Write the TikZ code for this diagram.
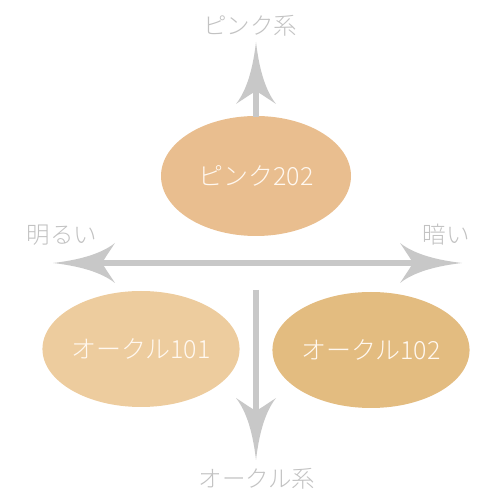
\documentclass[tikz,border=0pt]{standalone}
\usepackage{fontspec}
\setmainfont{Noto Sans CJK JP}[UprightFont={* Light}]
\usetikzlibrary{shapes.geometric}
\definecolor{arrowgray}{HTML}{C8C8C8}
\definecolor{labelgray}{HTML}{C2C2C2}
\definecolor{pinkfill}{HTML}{E9BE8F}
\definecolor{ochreA}{HTML}{EDCC9E}
\definecolor{ochreB}{HTML}{E3BC80}
\definecolor{textlight}{HTML}{FFF8F0}
\tikzset{
  blob/.style={ellipse, inner sep=0pt, text=textlight, font=\fontsize{25pt}{28pt}\selectfont},
  axislabel/.style={text=labelgray, font=\fontsize{23.5pt}{26pt}\selectfont, inner sep=0pt},
  axisline/.style={draw=arrowgray, line width=6pt},
  arrowhd/.pic={\fill[arrowgray] (0,0) .. controls (-26,-3) and (-48,-9) .. (-62,-20)
     .. controls (-56,-11) and (-52,-5) .. (-49,0)
     .. controls (-52,5) and (-56,11) .. (-62,20)
     .. controls (-48,9) and (-26,3) .. (0,0) -- cycle;}
}
\begin{document}
\begin{tikzpicture}[x=1pt,y=1pt]
\useasboundingbox (0,0) rectangle (500,500);
% ellipses
\node[blob, fill=pinkfill, minimum width=190pt, minimum height=120pt] (pink) at (256,324) {ピンク202};
\node[blob, fill=ochreA, minimum width=193pt, minimum height=116pt] (o101) at (141,151) {オークル101};
\node[blob, fill=ochreB, minimum width=191pt, minimum height=116pt] (o102) at (371,150) {オークル102};
% coordinates
\coordinate (uptip) at (256,458);
\coordinate (upstart) at (256,383);
\coordinate (lefttip) at (53,237);
\coordinate (righttip) at (462,237);
\coordinate (dstart) at (256,210);
\coordinate (dtip) at (256,40);
% lines
\draw[axisline, shorten >=45pt] (upstart) -- (uptip);
\draw[axisline, shorten >=45pt, shorten <=45pt] (lefttip) -- (righttip);
\draw[axisline, shorten >=45pt] (dstart) -- (dtip);
% arrowheads
\pic[rotate=90] at (uptip) {arrowhd};
\pic[rotate=180] at (lefttip) {arrowhd};
\pic at (righttip) {arrowhd};
\pic[rotate=-90] at (dtip) {arrowhd};
% labels
\node[axislabel] (lpink) at (250,474) {ピンク系};
\node[axislabel] (lbright) at (62,265) {明るい};
\node[axislabel] (ldark) at (446,265) {暗い};
\node[axislabel] (lochre) at (257,21) {オークル系};
\end{tikzpicture}
\end{document}
